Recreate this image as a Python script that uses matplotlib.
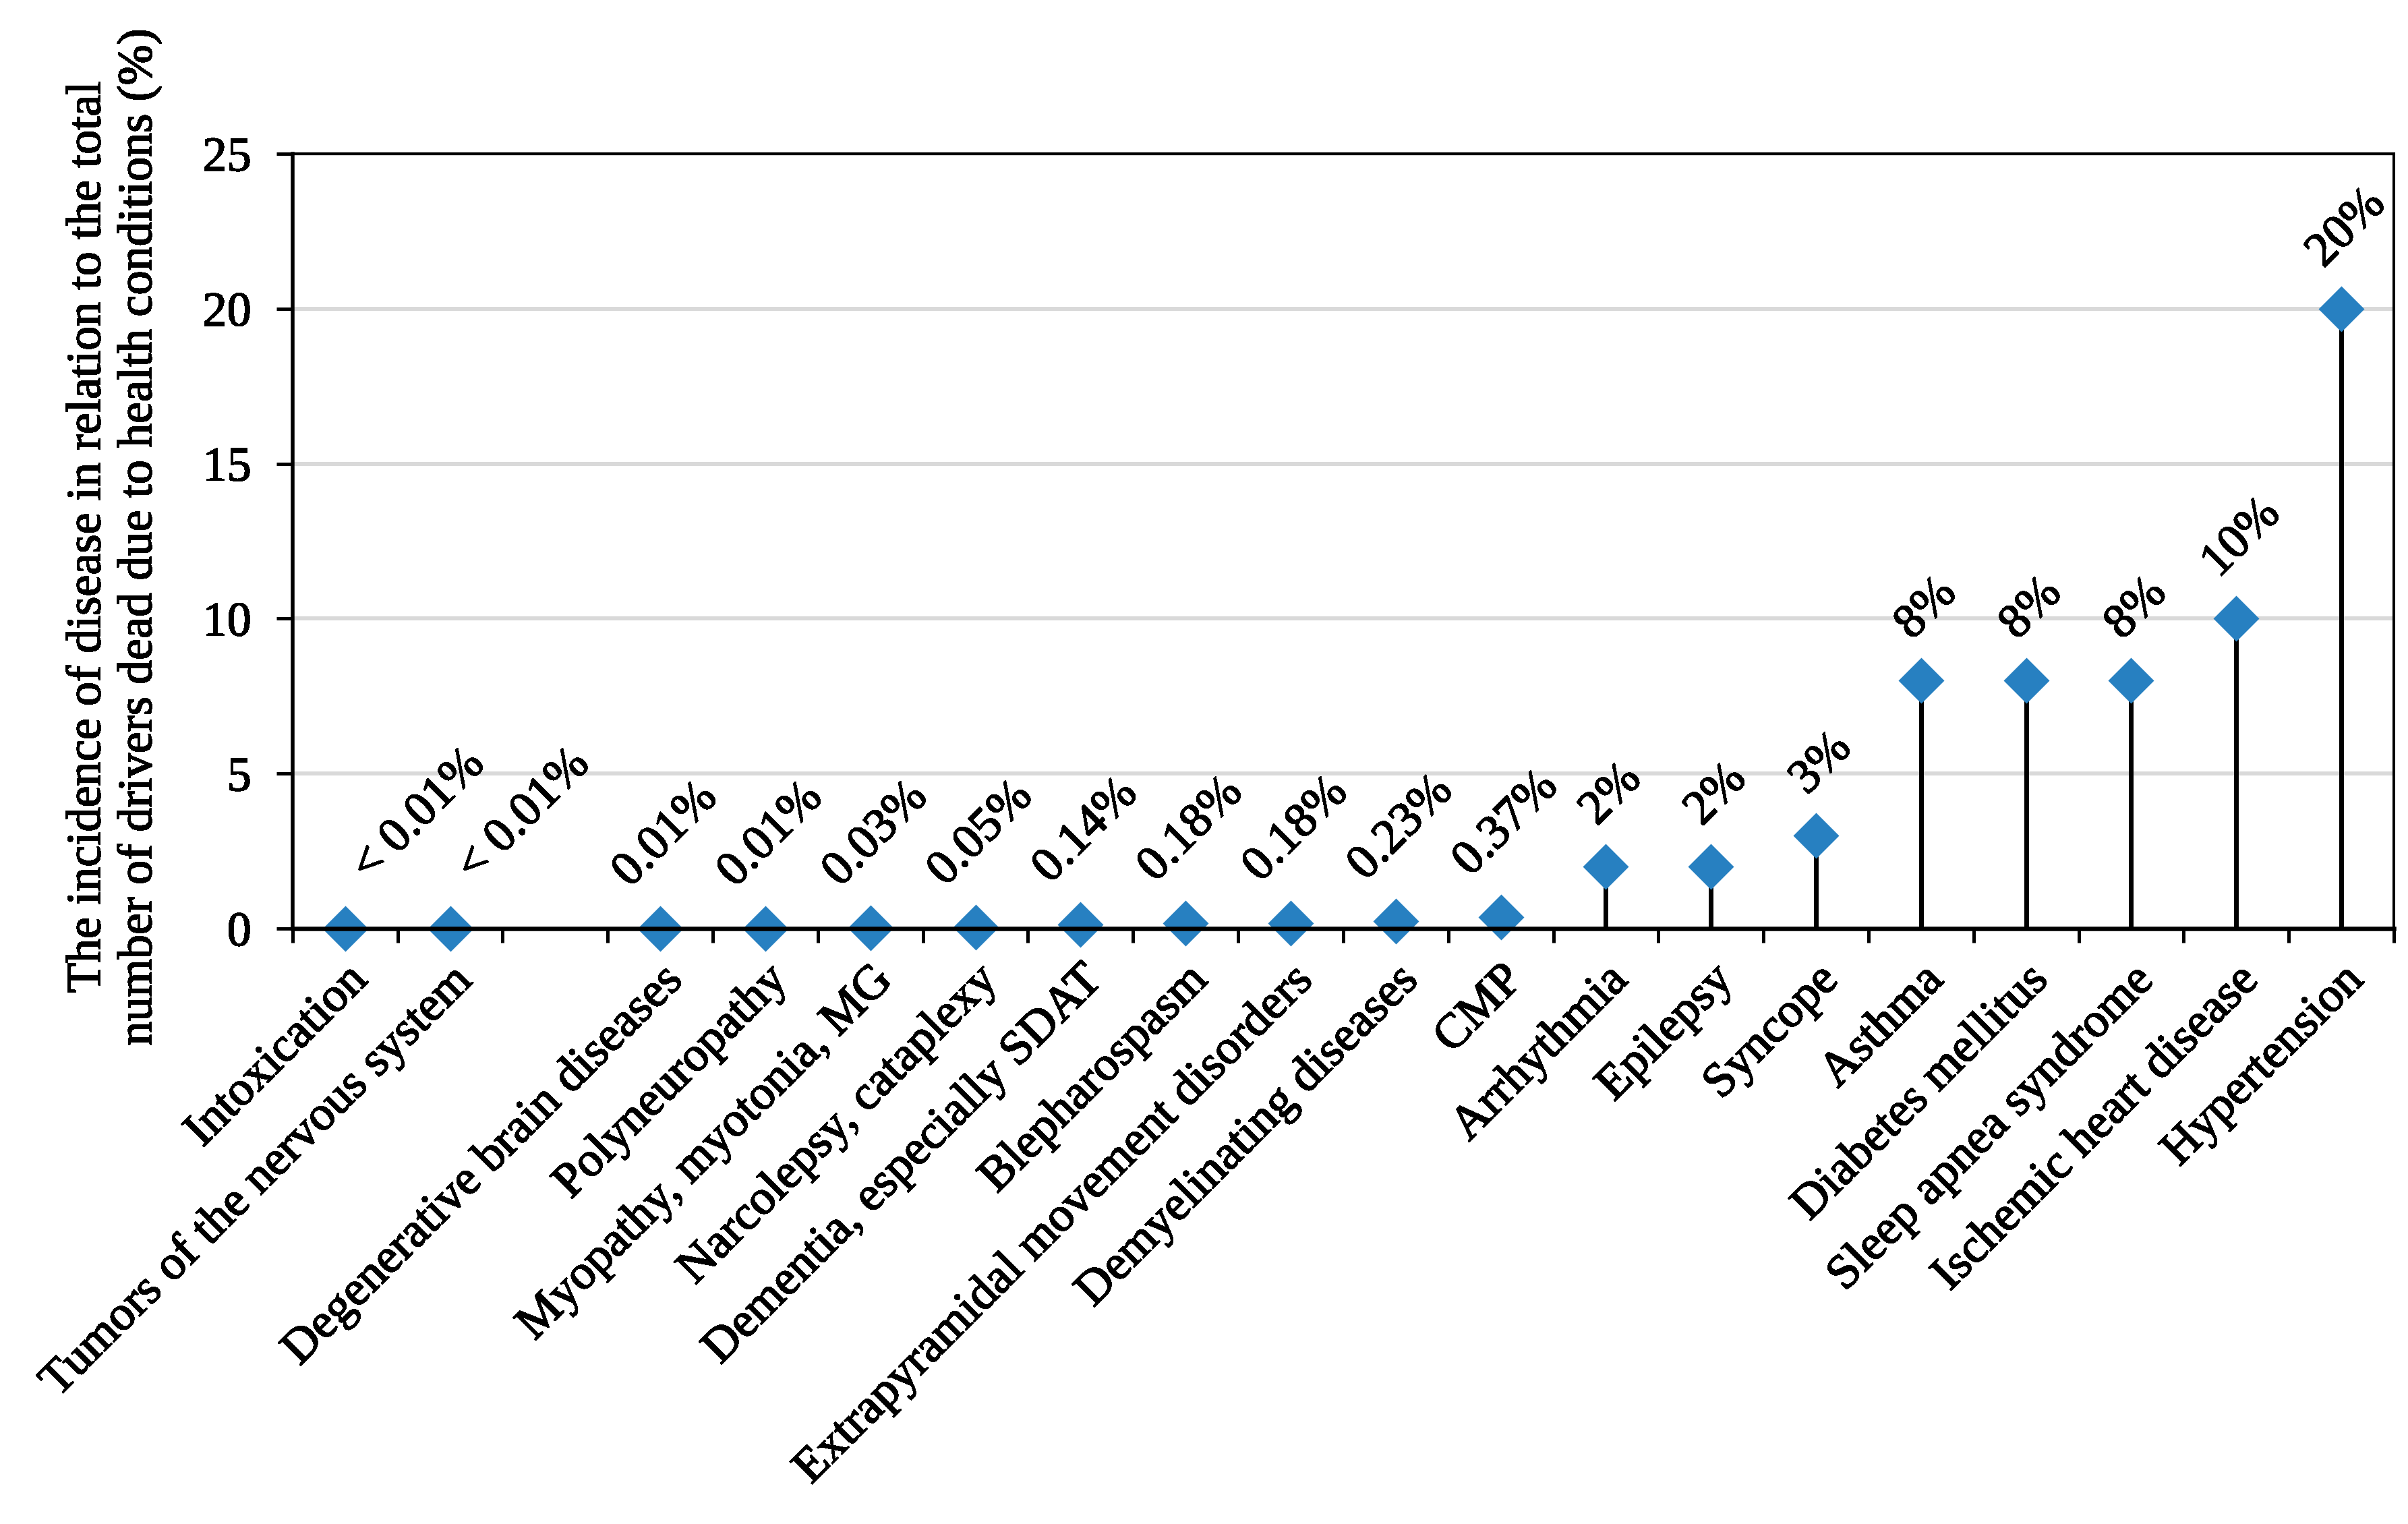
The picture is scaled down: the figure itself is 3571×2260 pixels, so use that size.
import numpy as np
import matplotlib.pyplot as plt
import matplotlib.patheffects as pe
from matplotlib.text import Text

# categories on the x axis (the empty one is a gap in the original chart)
categories = ["Intoxication", "Tumors of the nervous system", "",
              "Degenerative brain diseases", "Polyneuropathy",
              "Myopathy, myotonia, MG", "Narcolepsy, cataplexy",
              "Dementia, especially SDAT", "Blepharospasm",
              "Extrapyramidal movement disorders", "Demyelinating diseases",
              "CMP", "Arrhythmia", "Epilepsy", "Syncope", "Asthma",
              "Diabetes mellitus", "Sleep apnea syndrome",
              "Ischemic heart disease", "Hypertension"]

# incidence in %
values = [0.005, 0.005, np.nan, 0.01, 0.01, 0.03, 0.05, 0.14, 0.18, 0.18,
          0.23, 0.37, 2, 2, 3, 8, 8, 8, 10, 20]

value_labels = ["< 0.01%", "< 0.01%", "", "0.01%", "0.01%", "0.03%", "0.05%",
                "0.14%", "0.18%", "0.18%", "0.23%", "0.37%", "2%", "2%", "3%",
                "8%", "8%", "8%", "10%", "20%"]

plt.rcParams['font.family'] = ['Liberation Serif', 'DejaVu Serif']
plt.rcParams['text.antialiased'] = False
plt.rcParams['lines.antialiased'] = False
FS = 52

fig = plt.figure(figsize=(35.71, 22.60), dpi=100)
ax = fig.add_axes([0.1215, 0.3907, 0.9941 - 0.1215, 0.8991 - 0.3907])

x = np.arange(len(categories))
vals = np.array(values, dtype=float)
ok = ~np.isnan(vals)

# stems + diamonds
ax.vlines(x[ok], 0, vals[ok], color='black', lw=3.8, zorder=3,
          antialiased=False)
ax.plot(x[ok], vals[ok], 'D', color='#2780c1', ms=35, mec='none',
        zorder=4, clip_on=False)

# data labels
for xi, v, lab in zip(x, vals, value_labels):
    if not lab:
        continue
    if lab.startswith('<'):
        ax.annotate(lab, (xi, v), xytext=(0, 41), textcoords='offset points',
                    rotation=45, ha='left', va='bottom', fontsize=FS)
    else:
        ax.annotate(lab, (xi, v), xytext=(6, 35), textcoords='offset points',
                    rotation=45, ha='center', va='bottom', fontsize=FS)

ax.set_xlim(-0.5, len(categories) - 0.5)
ax.set_ylim(0, 25)
ax.set_yticks(range(0, 26, 5))

ax.set_xticks(x)
ax.set_xticklabels(categories, rotation=45, ha='right', rotation_mode='anchor')
ax.set_xticks(np.arange(-0.5, len(categories), 1), minor=True)
ax.tick_params(axis='x', which='major', length=0, pad=31, labelsize=FS)
ax.tick_params(axis='x', which='minor', length=15, width=3.6, direction='out')
ax.tick_params(axis='y', length=17, width=3.6, pad=27, labelsize=FS)

ax.yaxis.grid(True, color='#d9d9d9', lw=4)
ax.set_axisbelow(True)

ax.spines['top'].set_linewidth(2.9)
ax.spines['right'].set_linewidth(2.9)
ax.spines['left'].set_linewidth(4)
ax.spines['bottom'].set_linewidth(4.7)
ax.spines['bottom'].set_zorder(5)

fig.text(0.0473, 0.648,
         "The incidence of disease in relation to the total\n"
         "number of drivers dead due to health conditions (%)",
         rotation=90, ha='center', va='center', multialignment='center',
         fontsize=FS)

# a touch heavier glyphs, like the original rendering
for t in fig.findobj(Text):
    t.set_path_effects([pe.withStroke(linewidth=0.5, foreground='black')])

fig.savefig('out.png', dpi=100)
